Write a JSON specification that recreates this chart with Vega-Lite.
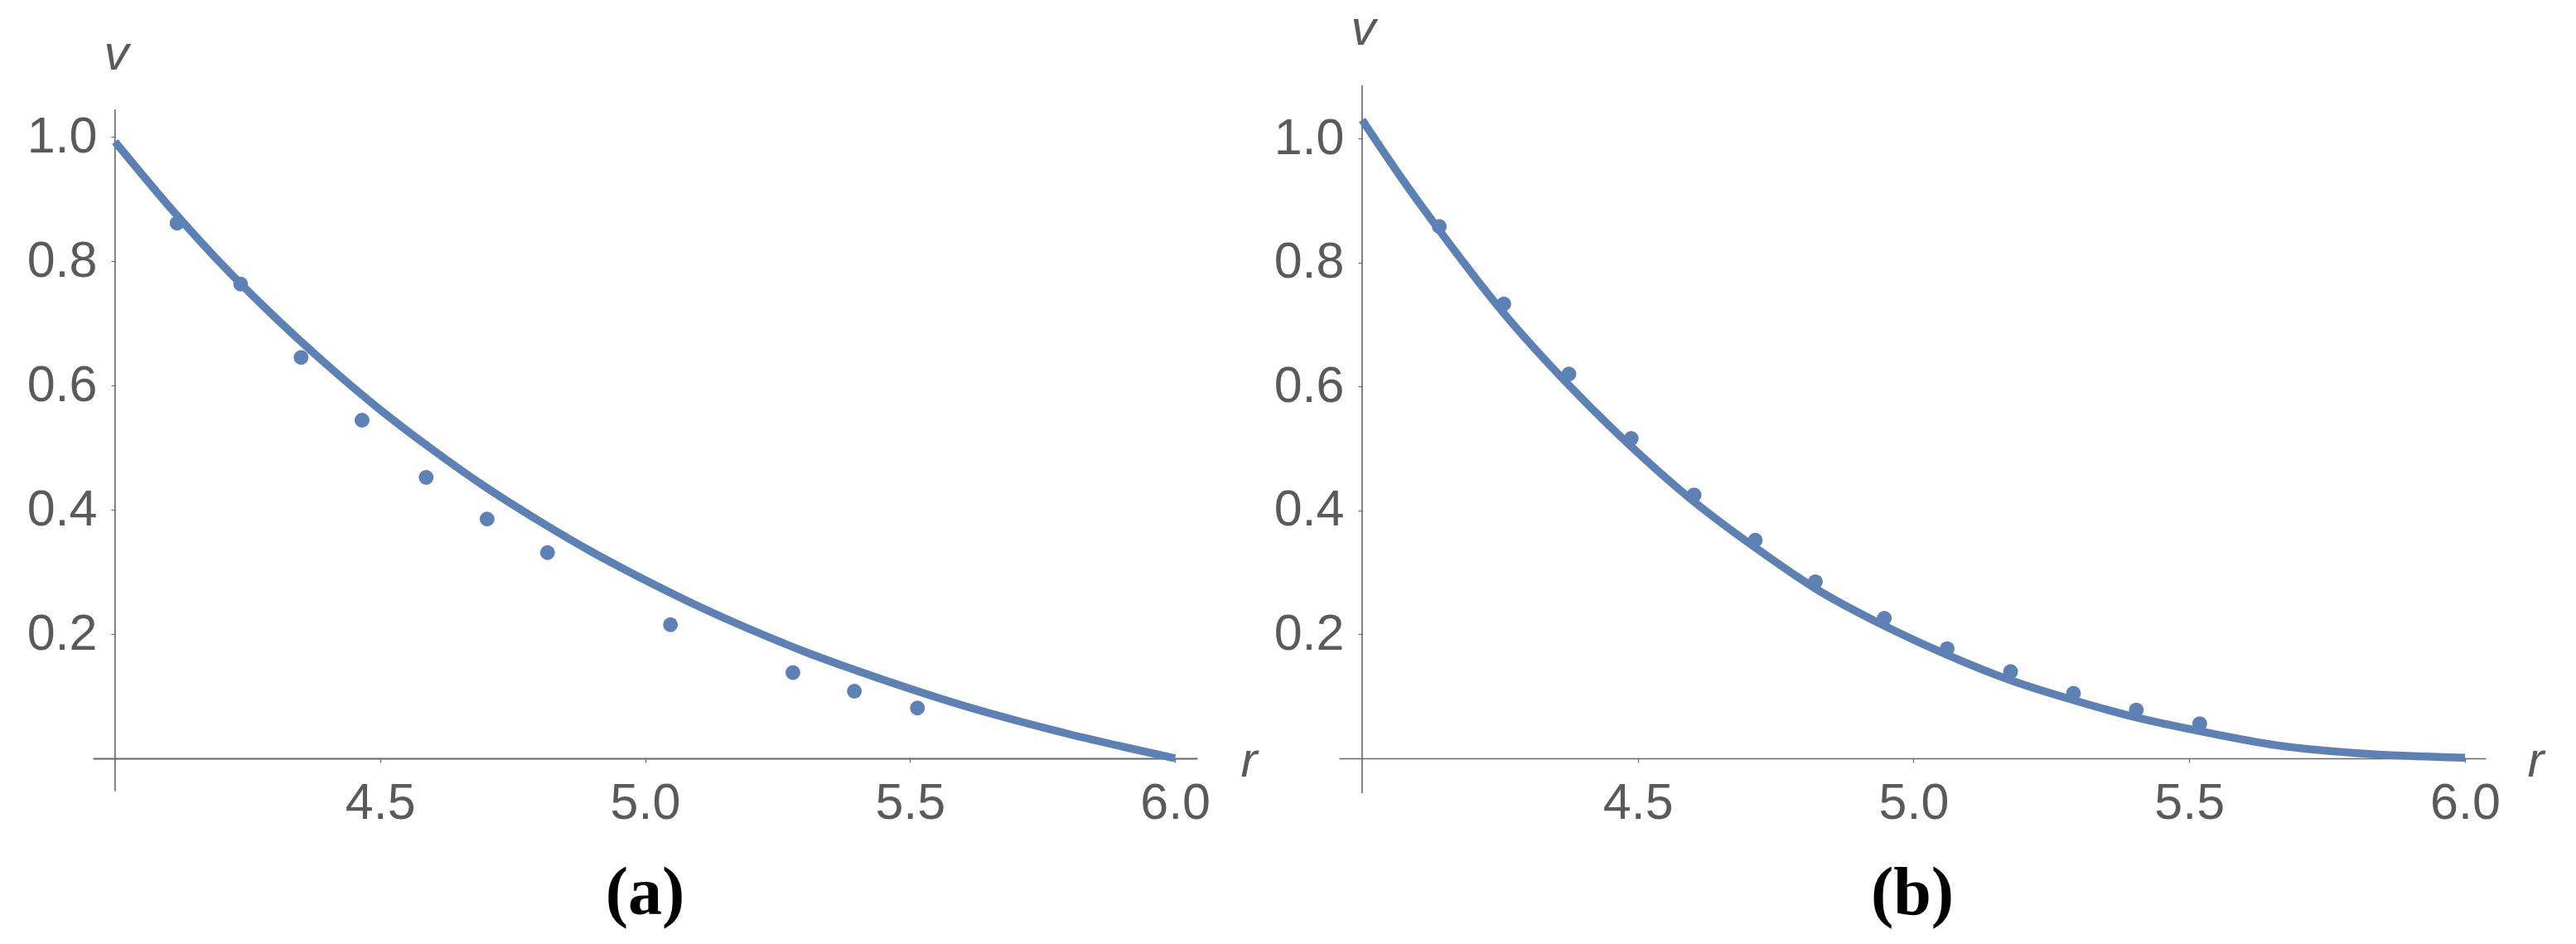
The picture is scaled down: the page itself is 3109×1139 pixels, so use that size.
{
  "$schema": "https://vega.github.io/schema/vega-lite/v6.json",
  "autosize": {"type": "pad"},
  "padding": {"left": 32, "top": 5, "right": 10, "bottom": 5},
  "background": "white",
  "bounds": "flush",
  "spacing": 171,
  "config": {
    "view": {"stroke": null},
    "axis": {
      "grid": false,
      "labelFont": "Liberation Sans",
      "labelFontSize": 61,
      "labelColor": "#5a5a5a",
      "titleFont": "Liberation Sans",
      "titleFontSize": 60,
      "titleFontStyle": "italic",
      "titleFontWeight": "normal",
      "titleColor": "#5a5a5a",
      "domainColor": "#666666",
      "tickColor": "#666666",
      "tickSize": 5,
      "tickWidth": 1.2,
      "labelOverlap": false,
      "labelFlush": false,
      "format": ".1f"
    },
    "title": {"font": "Liberation Serif", "fontSize": 82, "fontWeight": "bold", "color": "#000000", "orient": "bottom", "offset": 39, "anchor": "middle", "frame": "group"}
  },
  "datasets": {
    "axisA": [{"r": 4.0, "vlo": -0.053, "vhi": 1.044}],
    "axisB": [{"r": 4.0, "vlo": -0.0561, "vhi": 1.0856}],
    "ptsA": [
      {"r": 4.117, "v": 0.861}, {"r": 4.237, "v": 0.763}, {"r": 4.351, "v": 0.645},
      {"r": 4.466, "v": 0.544}, {"r": 4.587, "v": 0.452}, {"r": 4.702, "v": 0.385},
      {"r": 4.816, "v": 0.331}, {"r": 5.048, "v": 0.215}, {"r": 5.279, "v": 0.138},
      {"r": 5.395, "v": 0.108}, {"r": 5.514, "v": 0.081}
    ],
    "lineA": [
      {"r": 4.0, "v": 0.992}, {"r": 4.1, "v": 0.890}, {"r": 4.2, "v": 0.796},
      {"r": 4.3, "v": 0.711}, {"r": 4.4, "v": 0.633}, {"r": 4.5, "v": 0.561},
      {"r": 4.6, "v": 0.496}, {"r": 4.7, "v": 0.436}, {"r": 4.8, "v": 0.382},
      {"r": 4.9, "v": 0.332}, {"r": 5.0, "v": 0.287}, {"r": 5.1, "v": 0.245},
      {"r": 5.2, "v": 0.207}, {"r": 5.3, "v": 0.172}, {"r": 5.4, "v": 0.141},
      {"r": 5.5, "v": 0.112}, {"r": 5.6, "v": 0.085}, {"r": 5.7, "v": 0.061},
      {"r": 5.8, "v": 0.039}, {"r": 5.9, "v": 0.019}, {"r": 6.0, "v": 0.0}
    ],
    "ptsB": [
      {"r": 4.140, "v": 0.858}, {"r": 4.257, "v": 0.733}, {"r": 4.375, "v": 0.620},
      {"r": 4.488, "v": 0.516}, {"r": 4.602, "v": 0.425}, {"r": 4.713, "v": 0.352},
      {"r": 4.822, "v": 0.285}, {"r": 4.947, "v": 0.226}, {"r": 5.061, "v": 0.177},
      {"r": 5.176, "v": 0.140}, {"r": 5.290, "v": 0.105}, {"r": 5.404, "v": 0.078},
      {"r": 5.519, "v": 0.056}
    ],
    "lineB": [
      {"r": 4.0, "v": 1.030}, {"r": 4.07, "v": 0.938}, {"r": 4.14, "v": 0.852},
      {"r": 4.257, "v": 0.718}, {"r": 4.375, "v": 0.602}, {"r": 4.488, "v": 0.503},
      {"r": 4.602, "v": 0.414}, {"r": 4.713, "v": 0.340}, {"r": 4.822, "v": 0.274},
      {"r": 4.947, "v": 0.214}, {"r": 5.061, "v": 0.167}, {"r": 5.176, "v": 0.126},
      {"r": 5.29, "v": 0.094}, {"r": 5.404, "v": 0.066}, {"r": 5.519, "v": 0.044},
      {"r": 5.66, "v": 0.021}, {"r": 5.809, "v": 0.008}, {"r": 6.0, "v": 0.001}
    ]
  },
  "hconcat": [
    {
      "width": 1333,
      "height": 854,
      "title": {"text": "(a)"},
      "encoding": {
        "x": {"field": "r", "type": "quantitative",
          "scale": {"domain": [3.958, 6.042], "nice": false, "zero": false},
          "axis": {"values": [4.5, 5.0, 5.5, 6.0], "offset": -42, "domainWidth": 1.8, "labelPadding": 19,
            "title": "r", "titleX": 1395, "titleY": 3, "titleAlign": "center", "titleBaseline": "middle", "titleAngle": 0}},
        "y": {"field": "v", "type": "quantitative",
          "scale": {"domain": [-0.056, 1.0827], "nice": false, "zero": false},
          "axis": {"values": [0.2, 0.4, 0.6, 0.8, 1.0], "offset": -27, "domain": false, "labelPadding": 17,
            "title": "v", "titleX": 1, "titleY": -38, "titleAlign": "center", "titleBaseline": "middle", "titleAngle": 0}}
      },
      "layer": [
        {"data": {"name": "axisA"}, "mark": {"type": "rule", "color": "#666666", "strokeWidth": 1.6},
          "encoding": {"y": {"field": "vlo", "type": "quantitative"}, "y2": {"field": "vhi"}}},
        {"data": {"name": "ptsA"}, "mark": {"type": "point", "filled": true, "opacity": 1, "size": 320, "color": "#5E81B5"}},
        {"data": {"name": "lineA"}, "mark": {"type": "line", "strokeWidth": 9.5, "color": "#5E81B5", "interpolate": "monotone"}}
      ]
    },
    {
      "width": 1384,
      "height": 854,
      "title": {"text": "(b)"},
      "encoding": {
        "x": {"field": "r", "type": "quantitative",
          "scale": {"domain": [3.958, 6.0376], "nice": false, "zero": false},
          "axis": {"values": [4.5, 5.0, 5.5, 6.0], "offset": -42, "domainWidth": 1.4, "labelPadding": 19,
            "title": "r", "titleX": 1444, "titleY": 3, "titleAlign": "center", "titleBaseline": "middle", "titleAngle": 0}},
        "y": {"field": "v", "type": "quantitative",
          "scale": {"domain": [-0.0561, 1.0856], "nice": false, "zero": false},
          "axis": {"values": [0.2, 0.4, 0.6, 0.8, 1.0], "offset": -28, "domain": false, "labelPadding": 17,
            "title": "v", "titleX": 1, "titleY": -68, "titleAlign": "center", "titleBaseline": "middle", "titleAngle": 0}}
      },
      "layer": [
        {"data": {"name": "axisB"}, "mark": {"type": "rule", "color": "#666666", "strokeWidth": 1.6},
          "encoding": {"y": {"field": "vlo", "type": "quantitative"}, "y2": {"field": "vhi"}}},
        {"data": {"name": "ptsB"}, "mark": {"type": "point", "filled": true, "opacity": 1, "size": 320, "color": "#5E81B5"}},
        {"data": {"name": "lineB"}, "mark": {"type": "line", "strokeWidth": 9.5, "color": "#5E81B5", "interpolate": "monotone"}}
      ]
    }
  ]
}
